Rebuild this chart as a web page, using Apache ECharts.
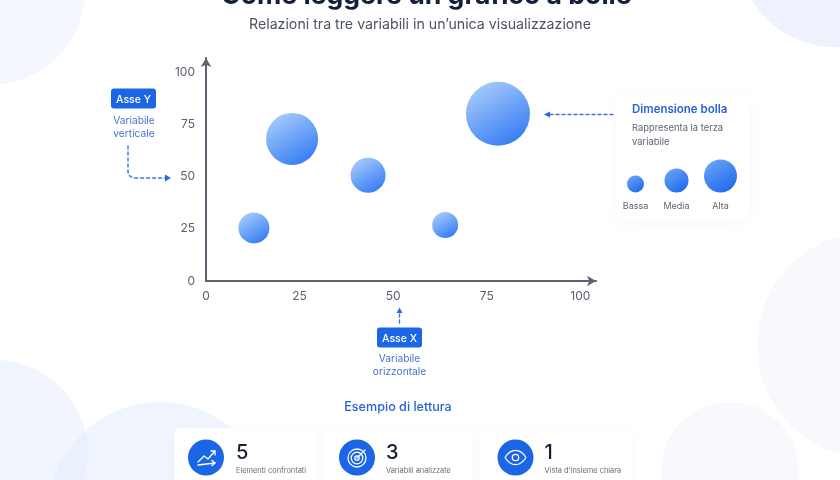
<!DOCTYPE html>
<html><head><meta charset="utf-8">
<style>html,body{margin:0;padding:0;background:#fff}#c{width:840px;height:480px}</style>
<script src="https://cdn.jsdelivr.net/npm/echarts@6/dist/echarts.min.js"></script>
</head><body><div id="c"></div>
<script>
const xValues = [12.8, 23.0, 43.3, 63.9, 78.0];
const yValues = [25.4, 68.0, 50.6, 26.8, 80.0];
const bubbleSizes = [31, 52, 35, 26, 64];
const axisTicks = [0, 25, 50, 75, 100];
const legendLabels = ['Bassa', 'Media', 'Alta'];
const legendSizes = [17, 24, 33];
const statValues = ['5', '3', '1'];
const statLabels = ['Elementi confrontati', 'Variabili analizzate', "Vista d'insieme chiara"];
const FONT = 'Inter, "Noto Sans", sans-serif';
const BLUE = '#1a66e6';
const grad = (a, b) => new echarts.graphic.LinearGradient(0.2, 0, 0.8, 1, [{offset: 0, color: a}, {offset: 1, color: b}]);

const chart = echarts.init(document.getElementById('c'), null, {renderer: 'canvas'});
const g = [];
const circle = (cx, cy, r, fill, z) => g.push({type: 'circle', shape: {cx, cy, r}, style: {fill}, z, silent: true});
const text = (x, y, t, size, color, align, weight) => g.push({type: 'text', x, y, z: 5, silent: true, style: {text: t, fontFamily: FONT, fontSize: size, fill: color, align: align || 'left', verticalAlign: 'middle', fontWeight: weight || 400}});
const card = (x, y, w, h) => g.push({type: 'rect', shape: {x, y, width: w, height: h, r: 6}, z: 1, silent: true, style: {fill: '#ffffff', shadowBlur: 12, shadowColor: 'rgba(70,110,190,0.04)', shadowOffsetY: 1}});

// background discs
circle(-10, -10, 95, '#f4f7fe', 0);
circle(835, -50, 97, '#edf2fd', 0);
circle(-5, 453, 93, '#f1f5fd', 0);
g.push({type: 'circle', shape: {cx: 160, cy: 514, r: 112}, z: 0, silent: true, style: {fill: 'rgba(230,238,251,0.6)'}});
circle(870, 345, 113, '#f7f9fd', 0);
circle(730, 471, 69, '#f7f9fd', 0);

// polyline helpers
const line = (pts, stroke, w, dash, z) => g.push({type: 'polyline', z: z || 4, silent: true, shape: {points: pts, smooth: 0}, style: {stroke, lineWidth: w, fill: 'none', lineDash: dash || null, lineCap: 'round', lineJoin: 'round'}});
const tri = (pts, fill) => g.push({type: 'polygon', z: 4, silent: true, shape: {points: pts}, style: {fill}});
const badge = (x, y, t) => {
  g.push({type: 'rect', z: 4, silent: true, shape: {x, y, width: 45, height: 20, r: 3}, style: {fill: BLUE}});
  text(x + 22.5, y + 11, t, 10.5, '#ffffff', 'center', 500);
};

// Asse Y note
badge(111, 88.5, 'Asse Y');
text(134, 120.5, 'Variabile', 10.2, '#4a72cf', 'center');
text(134, 134, 'verticale', 10.2, '#4a72cf', 'center');
line([[128, 146], [128, 172], [129, 175.5], [133, 178], [165, 178]], '#3a74dc', 1.4, [3, 3]);
tri([[165, 174.5], [171, 178], [165, 181.5]], '#2a6ce0');

// Asse X note
badge(377, 327.5, 'Asse X');
text(399.5, 358.5, 'Variabile', 10.2, '#4a72cf', 'center');
text(399.5, 372, 'orizzontale', 10.2, '#4a72cf', 'center');
line([[399.5, 323], [399.5, 313]], '#3a74dc', 1.4, [3, 3]);
tri([[396.5, 313], [399.5, 307.5], [402.5, 313]], '#2a6ce0');

// size legend card
card(617, 95, 133, 127);
line([[613, 114.5], [550, 114.5]], '#3a74dc', 1.4, [3, 3]);
tri([[550, 111.5], [544, 114.5], [550, 117.5]], '#2a6ce0');
text(632, 109.5, 'Dimensione bolla', 11.5, '#2a62d8', 'left', 600);
text(632, 128.5, 'Rappresenta la terza', 9.4, '#5d6470');
text(632, 142, 'variabile', 9.4, '#5d6470');
const legendX = [635.5, 676.5, 720.5];
legendSizes.forEach((s, i) => {
  circle(legendX[i], 192.5 - s / 2, s / 2, grad('#6aa3f5', '#1a68ee'), 3);
  text(legendX[i], 206.5, legendLabels[i], 9, '#5d6470', 'center');
});

// reading example
text(398, 407.5, 'Esempio di lettura', 12.6, '#2a62d8', 'center', 500);
card(174, 428, 142, 70); card(323, 428, 148, 70); card(480, 428, 152, 70);
const iconX = [206, 357, 515.5], numX = [236, 386, 544.5];
statValues.forEach((v, i) => {
  circle(iconX[i], 457.5, 18, BLUE, 3);
  text(numX[i], 452.5, v, 20, '#14203a', 'left', 500);
  text(numX[i], 471, statLabels[i], 7.4, '#666e7a');
});
// icon: trend
line([[198, 462], [204, 456], [208, 459], [215, 451]], '#fff', 1.3);
line([[211, 451], [215, 451], [215, 455]], '#fff', 1.3);
line([[198, 465], [215, 463]], '#fff', 1.3);
line([[212, 460.5], [215, 463], [212, 465.5]], '#fff', 1.3);
// icon: target
[9, 5.8, 2.2].forEach(r => g.push({type: 'circle', z: 4, silent: true, shape: {cx: 357, cy: 458, r}, style: {fill: 'none', stroke: '#fff', lineWidth: 1.3}}));
line([[357, 458], [365, 450]], '#fff', 1.2);
// icon: eye
g.push({type: 'bezierCurve', z: 4, silent: true, shape: {x1: 505, y1: 457.5, x2: 526, y2: 457.5, cpx1: 511, cpy1: 448, cpx2: 520, cpy2: 448}, style: {stroke: '#fff', lineWidth: 1.3, fill: 'none'}});
g.push({type: 'bezierCurve', z: 4, silent: true, shape: {x1: 505, y1: 457.5, x2: 526, y2: 457.5, cpx1: 511, cpy1: 467, cpx2: 520, cpy2: 467}, style: {stroke: '#fff', lineWidth: 1.3, fill: 'none'}});
g.push({type: 'circle', z: 4, silent: true, shape: {cx: 515.5, cy: 457.5, r: 3.2}, style: {fill: 'none', stroke: '#fff', lineWidth: 1.3}});

const axisCommon = {
  type: 'value', min: 0, interval: 25, splitLine: {show: false}, axisTick: {show: false},
  axisLine: {show: true, onZero: false, symbol: ['none', 'arrow'], symbolSize: [8, 9], lineStyle: {color: '#5c6270', width: 2}},
};
const tickFmt = v => axisTicks.includes(v) ? String(v) : '';
chart.setOption({
  animation: false,
  backgroundColor: '#ffffff',
  title: [
    {text: 'Come leggere un grafico a bolle', left: 216, top: -23, textStyle: {fontFamily: FONT, fontSize: 26.6, fontWeight: 700, color: '#14203a'}},
    {text: 'Relazioni tra tre variabili in un’unica visualizzazione', left: 'center', top: 13, textStyle: {fontFamily: FONT, fontSize: 14.2, fontWeight: 400, color: '#4b5361'}}
  ],
  grid: {left: 206, right: 244, top: 58, bottom: 199, containLabel: false},
  xAxis: {...axisCommon, max: 104.2, axisLabel: {margin: 9, formatter: tickFmt, showMaxLabel: false, fontFamily: FONT, fontSize: 12, color: '#5a606b'}},
  yAxis: {...axisCommon, max: 106.7, axisLabel: {margin: 11, formatter: tickFmt, showMaxLabel: false, fontFamily: FONT, fontSize: 12, color: '#5a606b'}},
  series: [{
    type: 'scatter', z: 3,
    data: xValues.map((x, i) => [x, yValues[i], bubbleSizes[i]]),
    symbol: 'circle',
    symbolSize: d => d[2],
    itemStyle: {opacity: 1, color: grad('#a9cdfb', '#3079f3')}
  }],
  graphic: g
});
</script></body></html>
